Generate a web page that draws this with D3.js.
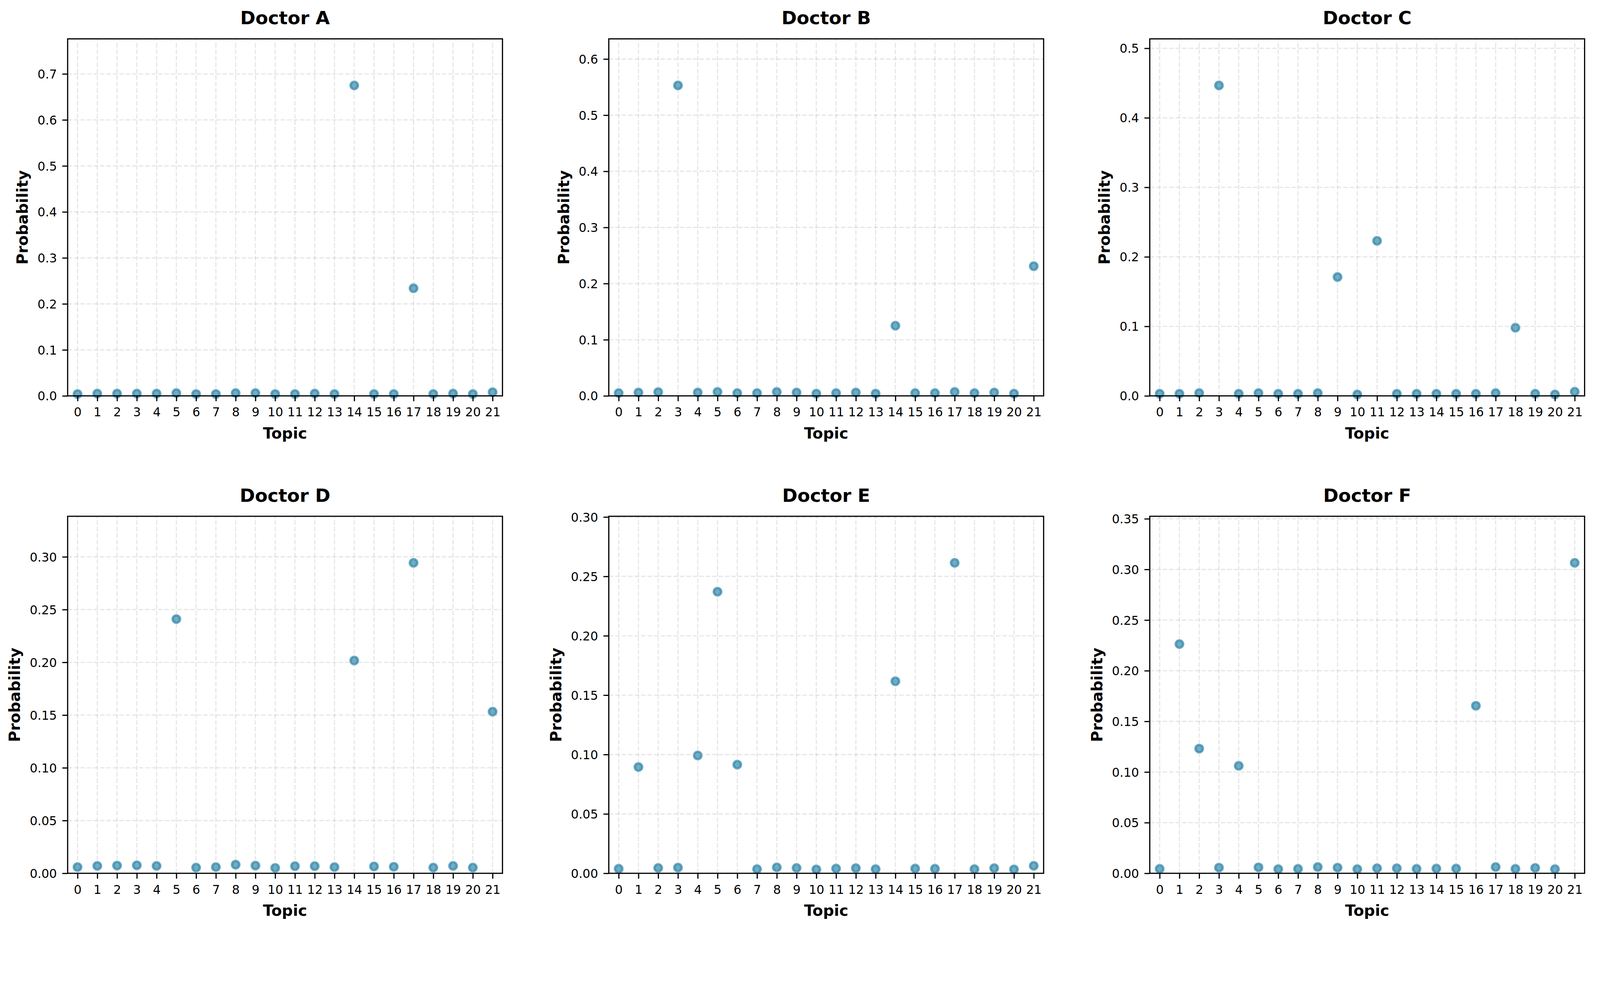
<!DOCTYPE html>
<html>
<head>
<meta charset="utf-8">
<script src="https://cdn.jsdelivr.net/npm/d3@7"></script>
<style>
  html, body { margin: 0; padding: 0; background: #ffffff; overflow: hidden; width: 100%; height: 100%; }
  svg { display: block; width: 100vw; height: 100vh; }
  text { font-family: "DejaVu Sans", sans-serif; fill: #000; }
</style>
</head>
<body>
<svg id="chart" viewBox="0 0 4364 2535" preserveAspectRatio="xMidYMin meet"></svg>
<script>
// ---------- data ----------
const topics = [0,1,2,3,4,5,6,7,8,9,10,11,12,13,14,15,16,17,18,19,20,21];
const doctors = ["Doctor A","Doctor B","Doctor C","Doctor D","Doctor E","Doctor F"];

const doctorA = [0.004,0.005,0.005,0.005,0.005,0.006,0.004,0.004,0.006,0.006,0.004,0.004,0.005,0.004,0.675,0.004,0.004,0.234,0.004,0.005,0.004,0.008];
const doctorB = [0.005,0.006,0.0068,0.553,0.006,0.007,0.005,0.005,0.007,0.006,0.004,0.005,0.006,0.004,0.125,0.005,0.005,0.007,0.005,0.006,0.004,0.231];
const doctorC = [0.003,0.003,0.004,0.4466,0.003,0.004,0.003,0.003,0.004,0.171,0.002,0.223,0.003,0.003,0.003,0.003,0.003,0.004,0.098,0.003,0.002,0.006];
const doctorD = [0.0059,0.007,0.0073,0.0076,0.007,0.241,0.0054,0.0059,0.0082,0.0073,0.0051,0.0068,0.0068,0.0059,0.2017,0.0065,0.0062,0.2943,0.0054,0.007,0.0054,0.1532];
const doctorE = [0.0038,0.0895,0.0045,0.0048,0.0992,0.2371,0.0915,0.0035,0.005,0.0045,0.0033,0.004,0.0043,0.0035,0.1617,0.004,0.0038,0.2614,0.0035,0.0043,0.0033,0.0063];
const doctorF = [0.0044,0.2263,0.1231,0.0056,0.1061,0.0059,0.0041,0.0044,0.0062,0.0056,0.0041,0.005,0.005,0.0044,0.0047,0.0047,0.1654,0.0062,0.0044,0.0053,0.0041,0.3065];
const seriesList = [doctorA, doctorB, doctorC, doctorD, doctorE, doctorF];

const yTicksA = [0.0,0.1,0.2,0.3,0.4,0.5,0.6,0.7];
const yTicksB = [0.0,0.1,0.2,0.3,0.4,0.5,0.6];
const yTicksC = [0.0,0.1,0.2,0.3,0.4,0.5];
const yTicksD = [0.00,0.05,0.10,0.15,0.20,0.25,0.30];
const yTicksE = [0.00,0.05,0.10,0.15,0.20,0.25,0.30];
const yTicksF = [0.00,0.05,0.10,0.15,0.20,0.25,0.30,0.35];
const yTickLists = [yTicksA, yTicksB, yTicksC, yTicksD, yTicksE, yTicksF];
const yTickFormats = [".1f",".1f",".1f",".2f",".2f",".2f"];

// ---------- layout ----------
const colLeft = [184.5, 1660.5, 3136];
const rowTop = [106, 1408.5];
const axW = 1186;
const axH = 974;
const color = "#2E86AB";
const tickLen = 14.6, tickPad = 14.6;
const tickFont = 33.3, labelFont = 41.7, titleFont = 50;

const svg = d3.select("#chart");
svg.append("rect").attr("width", 4364).attr("height", 2535).attr("fill", "#fff");

seriesList.forEach((vals, i) => {
  const left = colLeft[i % 3];
  const top = rowTop[Math.floor(i / 3)];
  const ymax = d3.max(vals) * 1.15;

  const x = d3.scaleLinear().domain([-0.5, 21.5]).range([left, left + axW]);
  const y = d3.scaleLinear().domain([0, ymax]).range([top + axH, top]);
  const g = svg.append("g");

  // markers
  g.append("g").selectAll("circle").data(topics).join("circle")
    .attr("cx", d => x(d))
    .attr("cy", d => y(vals[d]))
    .attr("r", 10.2)
    .attr("fill", color).attr("fill-opacity", 0.7)
    .attr("stroke", color).attr("stroke-opacity", 0.7)
    .attr("stroke-width", 6.25);

  // grid (drawn above markers, like matplotlib)
  const grid = g.append("g")
    .attr("stroke", "#b0b0b0").attr("stroke-opacity", 0.3)
    .attr("stroke-width", 3.3).attr("stroke-dasharray", "12.3,5.3").attr("fill", "none");
  grid.selectAll("line.vx").data(topics).join("line").attr("class", "vx")
    .attr("x1", d => x(d)).attr("x2", d => x(d))
    .attr("y1", top + axH).attr("y2", top);
  grid.selectAll("line.hy").data(yTickLists[i]).join("line").attr("class", "hy")
    .attr("x1", left).attr("x2", left + axW)
    .attr("y1", d => y(d)).attr("y2", d => y(d));

  // x axis
  const xAxis = d3.axisBottom(x).tickValues(topics).tickFormat(d3.format("d"))
    .tickSizeInner(tickLen).tickSizeOuter(0).tickPadding(tickPad);
  const gx = g.append("g").attr("transform", `translate(0,${top + axH})`).call(xAxis);
  gx.select(".domain").remove();
  gx.selectAll(".tick line").attr("stroke", "#000").attr("stroke-width", 3.2);
  gx.selectAll(".tick text").attr("font-size", tickFont).attr("fill", "#000")
    .attr("font-family", "DejaVu Sans").attr("dy", null).attr("y", 56).attr("dominant-baseline", "alphabetic");

  // y axis
  const yAxis = d3.axisLeft(y).tickValues(yTickLists[i]).tickFormat(d3.format(yTickFormats[i]))
    .tickSizeInner(tickLen).tickSizeOuter(0).tickPadding(tickPad);
  const gy = g.append("g").attr("transform", `translate(${left},0)`).call(yAxis);
  gy.select(".domain").remove();
  gy.selectAll(".tick line").attr("stroke", "#000").attr("stroke-width", 3.2);
  gy.selectAll(".tick text").attr("font-size", tickFont).attr("fill", "#000")
    .attr("font-family", "DejaVu Sans").attr("dy", "0.36em");

  // frame (spines)
  g.append("rect").attr("x", left).attr("y", top).attr("width", axW).attr("height", axH)
    .attr("fill", "none").attr("stroke", "#000").attr("stroke-width", 3.2);

  // y tick label extent for ylabel placement
  let minX = Infinity;
  gy.selectAll(".tick text").each(function() {
    const b = this.getBBox();
    minX = Math.min(minX, left + b.x);
  });

  // labels
  g.append("text")
    .attr("transform", `translate(${minX - 16.7 - 9.8},${top + axH / 2}) rotate(-90)`)
    .attr("text-anchor", "middle").attr("font-weight", "bold").attr("font-size", labelFont)
    .text("Probability");
  g.append("text")
    .attr("x", left + axW / 2).attr("y", top + axH + 116)
    .attr("text-anchor", "middle").attr("font-weight", "bold").attr("font-size", labelFont)
    .text("Topic");
  g.append("text")
    .attr("x", left + axW / 2).attr("y", top - 39.5)
    .attr("text-anchor", "middle").attr("font-weight", "bold").attr("font-size", titleFont)
    .text(doctors[i]);
});
</script>
</body>
</html>
